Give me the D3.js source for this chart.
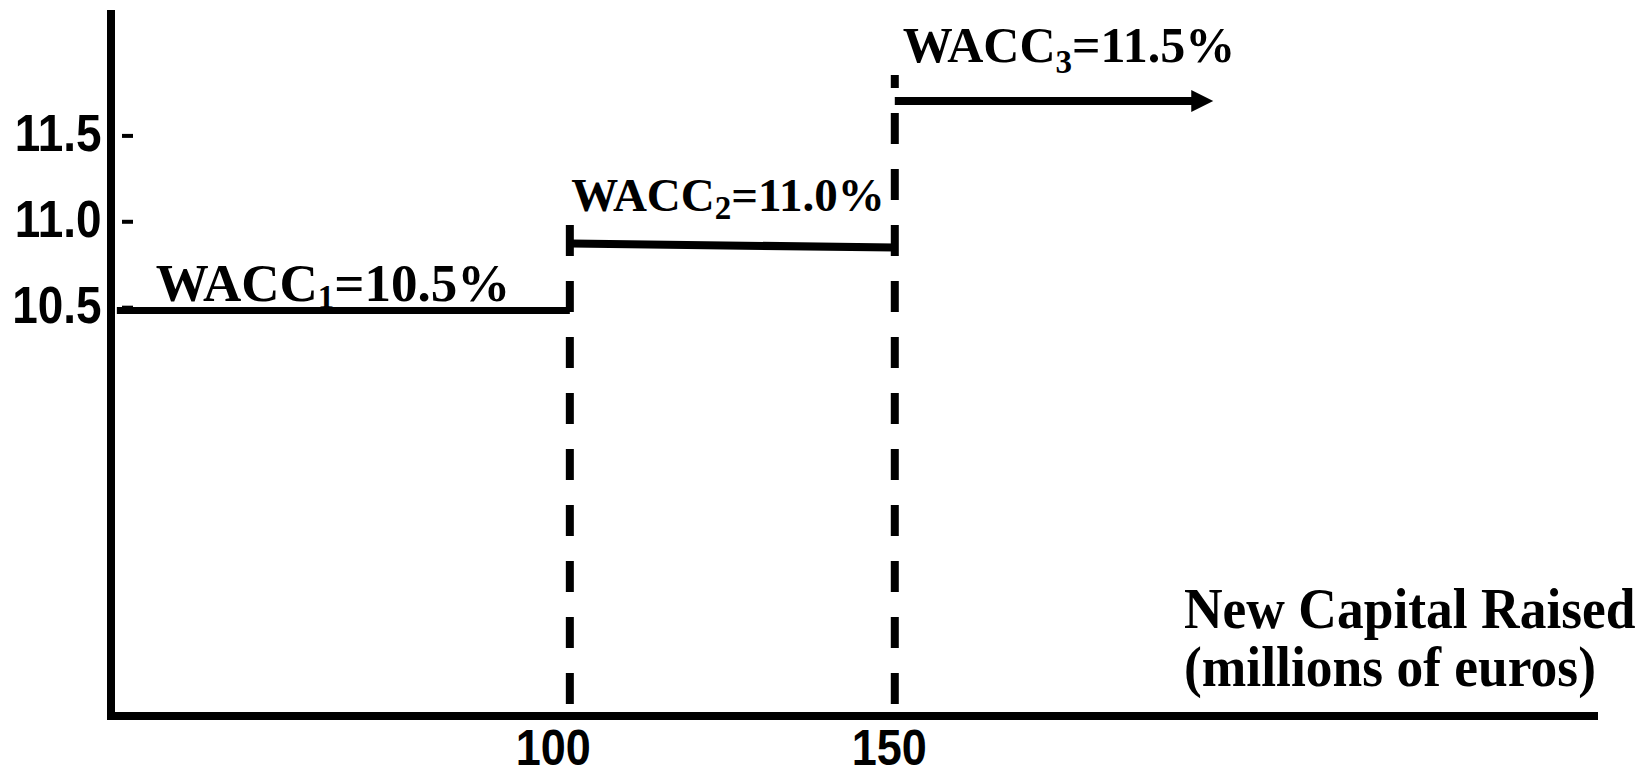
<!DOCTYPE html>
<html>
<head>
<meta charset="utf-8">
<script src="https://cdn.jsdelivr.net/npm/d3@7"></script>
<style>
  html, body { margin: 0; padding: 0; background: #fff; }
  svg { display: block; }
</style>
</head>
<body>
<svg id="chart" width="1652" height="769"></svg>
<script>
// ---- data ----
const yTicks = [10.5, 11.0, 11.5];
const xTicks = [100, 150];
const breakPoints = [100, 150];          // capital break points (millions of euros)
const breakTops = [10.978, 11.852];      // where each dashed break line starts
const segStart = [30.3, 100.2, 150];     // step segments, x from
const segEnd = [100, 150, 199];          // step segments, x to
const segLevelStart = [10.48, 10.871, 11.70];
const segLevelEnd = [10.48, 10.847, 11.70];
const waccSubs = ["1", "2", "3"];
const waccValues = ["10.5", "11.0", "11.5"];
const axisTitle = ["New Capital Raised", "(millions of euros)"];

// ---- layout ----
const svg = d3.select("#chart");
const x = d3.scaleLinear().domain([29.4, 258.2]).range([111, 1598]);
const y = d3.scaleLinear().domain([8.12, 12.23]).range([716, 10]);
const sans = "'Liberation Sans', Arial, sans-serif";
const serif = "'Liberation Serif', 'Times New Roman', serif";

// axes lines
svg.append("line").attr("x1", x(29.4)).attr("x2", x(29.4))
  .attr("y1", y(12.23)).attr("y2", y(8.12) + 4)
  .attr("stroke", "#000").attr("stroke-width", 8);
svg.append("line").attr("x1", x(29.4) - 4).attr("x2", x(258.2))
  .attr("y1", y(8.12)).attr("y2", y(8.12))
  .attr("stroke", "#000").attr("stroke-width", 8);

// y axis ticks
const yAxis = svg.append("g")
  .attr("transform", `translate(${x(29.4)},0)`)
  .call(d3.axisLeft(y).tickValues(yTicks).tickFormat(d3.format(".1f")));
yAxis.select(".domain").remove();
yAxis.selectAll(".tick line")
  .attr("x1", 11).attr("x2", 22).attr("stroke", "#000").attr("stroke-width", 4);
yAxis.selectAll(".tick text")
  .attr("x", null).attr("dy", null)
  .attr("transform", "translate(-9.5,15) scale(0.9,1)")
  .attr("text-anchor", "end")
  .style("font-family", sans).style("font-weight", "bold")
  .style("font-size", "51px").attr("fill", "#000");

// x axis labels
const xNudge = [-17, -6];
const xAxis = svg.append("g")
  .attr("transform", `translate(0,${y(8.12)})`)
  .call(d3.axisBottom(x).tickValues(xTicks).tickFormat(d3.format("d")));
xAxis.select(".domain").remove();
xAxis.selectAll(".tick line").remove();
xAxis.selectAll(".tick text")
  .attr("y", null).attr("dy", null)
  .attr("transform", (d, i) => `translate(${xNudge[i]},49) scale(0.9,1)`)
  .attr("text-anchor", "middle")
  .style("font-family", sans).style("font-weight", "bold")
  .style("font-size", "50px").attr("fill", "#000");

// dashed break lines
const dashPhaseY = 57, dashPeriod = 56;
svg.selectAll(".break").data(breakPoints).join("line")
  .attr("class", "break")
  .attr("x1", d => x(d)).attr("x2", d => x(d))
  .attr("y1", (d, i) => y(breakTops[i]))
  .attr("y2", y(8.12) - 4)
  .attr("stroke", "#000").attr("stroke-width", 8)
  .attr("stroke-dasharray", "31 25")
  .attr("stroke-dashoffset", (d, i) => ((y(breakTops[i]) - dashPhaseY) % dashPeriod + dashPeriod) % dashPeriod);

// step segments
const headLen = 22, headHalf = 11;
segStart.forEach((s, i) => {
  const isArrow = i === segStart.length - 1;
  const xe = x(segEnd[i]) - (isArrow ? headLen - 1 : 0);
  svg.append("line")
    .attr("x1", x(s)).attr("x2", xe)
    .attr("y1", y(segLevelStart[i])).attr("y2", y(segLevelEnd[i]))
    .attr("stroke", "#000").attr("stroke-width", i === 0 ? 7 : 8);
  if (isArrow) {
    const tx = x(segEnd[i]), ty = y(segLevelEnd[i]);
    svg.append("path")
      .attr("d", `M${tx},${ty} L${tx - headLen},${ty - headHalf} L${tx - headLen},${ty + headHalf} Z`)
      .attr("fill", "#000");
  }
});

// WACC labels
const labelDx = [39, 0, 8];
const labelDy = [-10, -32, -39];
const labelSize = [53, 47, 50];
const subShift = [7, 8, 11];
segStart.forEach((s, i) => {
  const t = svg.append("text")
    .attr("x", x(s) + labelDx[i])
    .attr("y", y(segLevelStart[i]) + labelDy[i])
    .style("font-family", serif).style("font-weight", "bold")
    .style("font-size", labelSize[i] + "px").attr("fill", "#000");
  t.append("tspan").text("WACC");
  t.append("tspan").attr("dy", subShift[i]).style("font-size", "33px").text(waccSubs[i]);
  t.append("tspan").attr("dy", -subShift[i]).text("=" + waccValues[i] + "%");
});

// axis title
const titleX = 1184;
svg.append("g")
  .attr("transform", `translate(${titleX},628) scale(0.955,1)`)
  .append("text")
  .style("font-family", serif).style("font-weight", "bold")
  .style("font-size", "56px").attr("fill", "#000")
  .selectAll("tspan").data(axisTitle).join("tspan")
  .attr("x", 0).attr("dy", (d, i) => i === 0 ? 0 : 58)
  .text(d => d);
</script>
</body>
</html>
